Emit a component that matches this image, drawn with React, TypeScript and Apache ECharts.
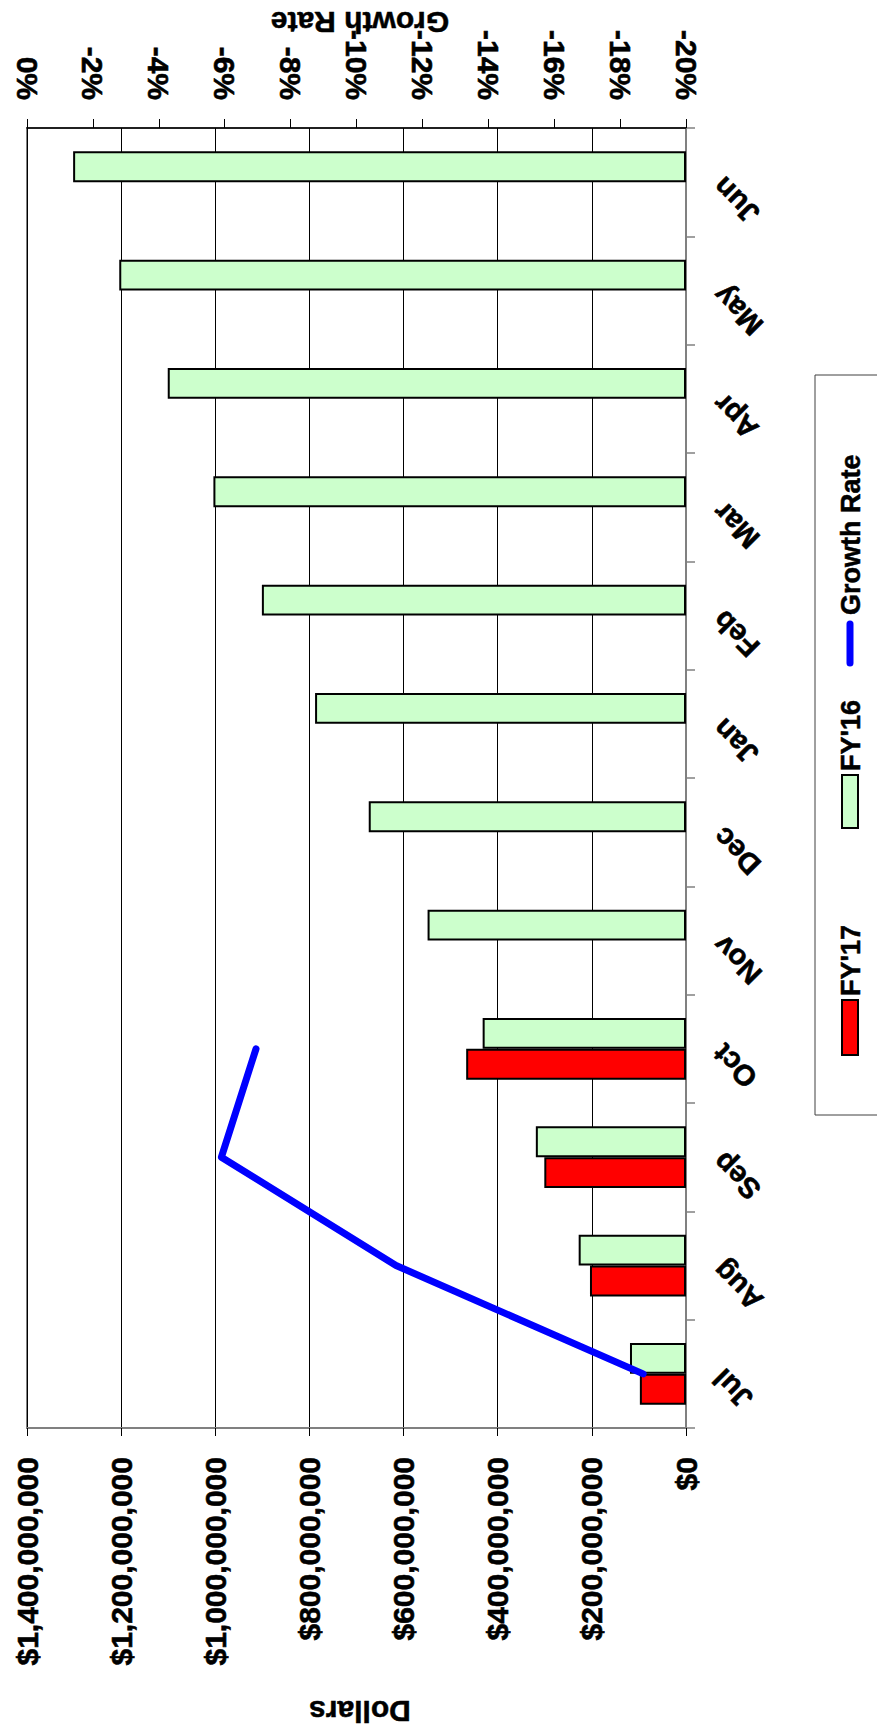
import React, { useEffect, useRef } from "react";
import * as echarts from "echarts";

const months = ["Jul", "Aug", "Sep", "Oct", "Nov", "Dec", "Jan", "Feb", "Mar", "Apr", "May", "Jun"];
const fy16 = [119e6, 228e6, 319e6, 432e6, 549e6, 674e6, 788e6, 901e6, 1004e6, 1101e6, 1204e6, 1302e6];
const fy17 = [98e6, 204e6, 301e6, 467e6];
const growth = [-18.7, -11.2, -5.9, -6.95];
const dollarAxis = { min: 0, max: 1.4e9, interval: 2e8 };
const rateAxis = { min: -20, max: 0, interval: 2 };
const seriesNames = ["FY'17", "FY'16", "Growth Rate"];
const axisTitles = { dollars: "Dollars", rate: "Growth Rate" };

const FONT = "Liberation Sans";
const heavy = { textBorderColor: "#000", textBorderWidth: 0.6 };
const tickFont = { fontFamily: FONT, fontWeight: "bold" as const, fontSize: 30, color: "#000", ...heavy };
const titleStyle = { fontFamily: FONT, fontWeight: "bold", fontSize: 30, fill: "#000", stroke: "#000", lineWidth: 0.5 };
const legendStyle = { fontFamily: FONT, fontWeight: "bold", fontSize: 27, fill: "#000", stroke: "#000", lineWidth: 0.5 };

export default function App() {
  const ref = useRef<HTMLDivElement>(null);
  useEffect(() => {
    if (!ref.current) return;
    const chart = echarts.init(ref.current, undefined, { renderer: "svg" });
    const option = {
      animation: false,
      backgroundColor: "#fff",
      grid: {
        left: 27,
        top: 128,
        width: 659,
        height: 1300,
        show: true,
        borderColor: "#808080",
        borderWidth: 2,
        containLabel: false,
      },
      xAxis: [
        {
          type: "value",
          position: "bottom",
          inverse: true,
          min: dollarAxis.min,
          max: dollarAxis.max,
          interval: dollarAxis.interval,
          axisLine: { show: true, lineStyle: { color: "#808080", width: 2 } },
          axisTick: { show: true, length: 8, lineStyle: { color: "#000", width: 1 } },
          splitLine: { show: true, lineStyle: { color: "#000", width: 1 } },
          axisLabel: {
            ...tickFont,
            rotate: 90,
            margin: 29,
            formatter: (v: number) => "$" + v.toLocaleString("en-US"),
          },
        },
        {
          type: "value",
          position: "top",
          inverse: true,
          min: rateAxis.min,
          max: rateAxis.max,
          interval: rateAxis.interval,
          axisLine: { show: true, lineStyle: { color: "#000", width: 1.5 } },
          axisTick: { show: true, length: 9, lineStyle: { color: "#000", width: 1 } },
          splitLine: { show: false },
          axisLabel: {
            ...tickFont,
            rotate: 90,
            margin: 28,
            formatter: (v: number) => v + "%",
          },
        },
      ],
      yAxis: [
        {
          type: "category",
          position: "right",
          data: months,
          axisLine: { show: true, lineStyle: { color: "#808080", width: 2 } },
          axisTick: { show: true, length: 9, lineStyle: { color: "#808080", width: 1.5 } },
          axisLabel: {
            ...tickFont,
            fontSize: 29,
            rotate: 135,
            margin: 32,
          },
        },
      ],
      series: [
        {
          name: seriesNames[1],
          type: "bar",
          data: fy16,
          barGap: "0%",
          barCategoryGap: "43%",
          itemStyle: { color: "#CCFFCC", borderColor: "#000", borderWidth: 2 },
        },
        {
          name: seriesNames[0],
          type: "bar",
          data: fy17,
          barGap: "0%",
          barCategoryGap: "43%",
          itemStyle: { color: "#FF0000", borderColor: "#000", borderWidth: 2 },
        },
        {
          name: seriesNames[2],
          type: "line",
          xAxisIndex: 1,
          data: growth.map((g, i) => [g, months[i]]),
          symbol: "none",
          z: 5,
          lineStyle: { color: "#0000FF", width: 7, cap: "round", join: "round" },
        },
      ],
      graphic: [
        {
          type: "text",
          x: 360,
          y: 22,
          rotation: Math.PI,
          style: { text: axisTitles.rate, ...titleStyle, textAlign: "center", textVerticalAlign: "middle" },
        },
        {
          type: "text",
          x: 360,
          y: 1711,
          rotation: Math.PI,
          style: { text: axisTitles.dollars, ...titleStyle, textAlign: "center", textVerticalAlign: "middle" },
        },
        {
          type: "rect",
          shape: { x: 815, y: 375, width: 80, height: 740 },
          style: { fill: "#fff", stroke: "#404040", lineWidth: 1 },
        },
        {
          type: "rect",
          shape: { x: 842, y: 1000, width: 16, height: 55 },
          style: { fill: "#FF0000", stroke: "#000", lineWidth: 2 },
        },
        {
          type: "text",
          x: 851,
          y: 996,
          rotation: Math.PI / 2,
          style: { text: seriesNames[0], ...legendStyle, textAlign: "left", textVerticalAlign: "middle" },
        },
        {
          type: "rect",
          shape: { x: 842, y: 775, width: 16, height: 53 },
          style: { fill: "#CCFFCC", stroke: "#000", lineWidth: 2 },
        },
        {
          type: "text",
          x: 851,
          y: 771,
          rotation: Math.PI / 2,
          style: { text: seriesNames[1], ...legendStyle, textAlign: "left", textVerticalAlign: "middle" },
        },
        {
          type: "line",
          shape: { x1: 850, y1: 624, x2: 850, y2: 663 },
          style: { stroke: "#0000FF", lineWidth: 7, lineCap: "round" },
        },
        {
          type: "text",
          x: 851,
          y: 615,
          rotation: Math.PI / 2,
          style: { text: seriesNames[2], ...legendStyle, textAlign: "left", textVerticalAlign: "middle" },
        },
      ],
    };
    chart.setOption(option);
    return () => chart.dispose();
  }, []);
  return (
    <div
      ref={ref}
      style={{ position: "absolute", left: 0, top: 0, width: 877, height: 1733, background: "#fff" }}
    />
  );
}
